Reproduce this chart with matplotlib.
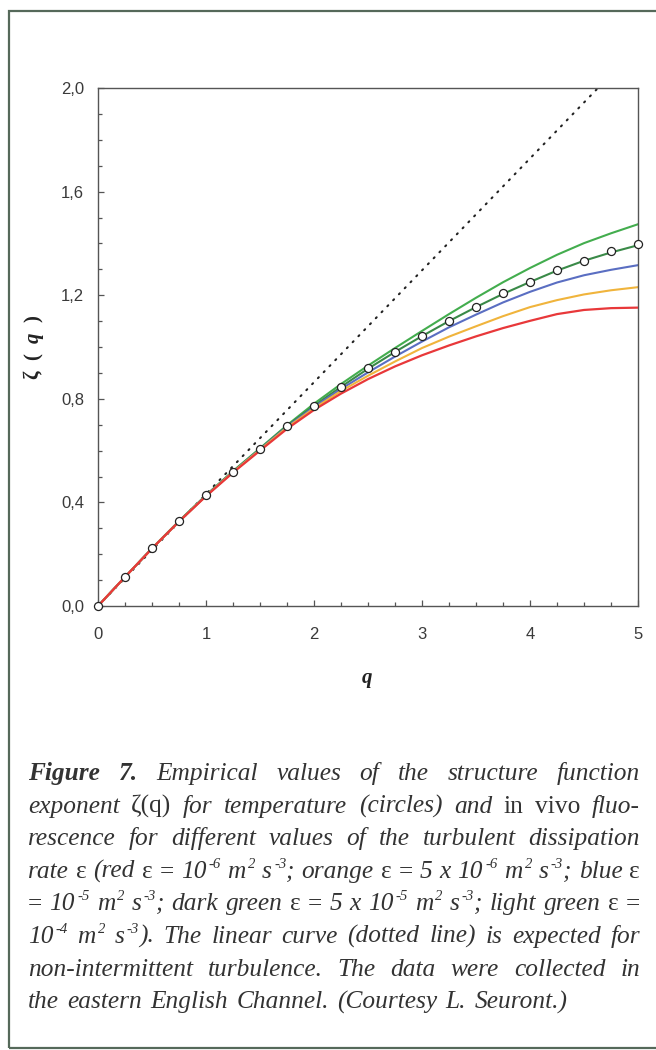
import matplotlib
matplotlib.use('Agg')
import matplotlib.pyplot as plt
from matplotlib.patches import Rectangle
from matplotlib.ticker import MultipleLocator, FixedLocator, FixedFormatter

# ---------------- data ----------------
q_points = [0.0, 0.25, 0.5, 0.75, 1.0, 1.25, 1.5, 1.75, 2.0, 2.25, 2.5,
            2.75, 3.0, 3.25, 3.5, 3.75, 4.0, 4.25, 4.5, 4.75, 5.0]
zeta_temperature = [0.0, 0.113, 0.223, 0.327, 0.427, 0.519, 0.607, 0.694, 0.772, 0.846, 0.917,
                    0.982, 1.042, 1.100, 1.155, 1.207, 1.251, 1.296, 1.333, 1.369, 1.397]
zeta_red = [0.0, 0.112, 0.222, 0.326, 0.424, 0.515, 0.600, 0.684, 0.757, 0.820, 0.876,
            0.925, 0.968, 1.006, 1.041, 1.073, 1.101, 1.127, 1.143, 1.150, 1.152]
zeta_orange = [0.0, 0.112, 0.222, 0.326, 0.425, 0.517, 0.603, 0.689, 0.763, 0.830, 0.889,
               0.944, 0.996, 1.040, 1.080, 1.119, 1.154, 1.181, 1.203, 1.219, 1.231]
zeta_blue = [0.0, 0.112, 0.222, 0.326, 0.426, 0.518, 0.605, 0.692, 0.768, 0.838, 0.902,
             0.963, 1.021, 1.076, 1.125, 1.172, 1.213, 1.249, 1.277, 1.298, 1.316]
zeta_darkgreen = [0.0, 0.112, 0.222, 0.327, 0.427, 0.519, 0.606, 0.695, 0.773, 0.846, 0.916,
                  0.981, 1.042, 1.100, 1.154, 1.205, 1.251, 1.295, 1.333, 1.365, 1.393]
zeta_lightgreen = [0.0, 0.112, 0.223, 0.328, 0.428, 0.521, 0.609, 0.698, 0.781, 0.857, 0.928,
                   0.996, 1.062, 1.127, 1.190, 1.250, 1.305, 1.356, 1.401, 1.439, 1.474]
q_linear = [0.0, 5.0]
zeta_linear = [0.0, 2.16]

x_ticks = [0, 1, 2, 3, 4, 5]
x_tick_labels = ['0', '1', '2', '3', '4', '5']
y_ticks = [0.0, 0.4, 0.8, 1.2, 1.6, 2.0]
y_tick_labels = ['0,0', '0,4', '0,8', '1,2', '1,6', '2,0']

# ---------------- figure ----------------
W, H = 656, 1050
fig = plt.figure(figsize=(W / 100, H / 100), dpi=100)
fig.patch.set_facecolor('white')

plt.rcParams['mathtext.fontset'] = 'custom'
plt.rcParams['mathtext.rm'] = 'Liberation Serif'
plt.rcParams['mathtext.bf'] = 'Liberation Serif:bold'
plt.rcParams['mathtext.bfit'] = 'Liberation Serif:italic:bold'
plt.rcParams['mathtext.it'] = 'Liberation Serif:italic'

ax_left, ax_top, ax_right, ax_bottom = 98, 88, 638, 606
ax = fig.add_axes([ax_left / W, 1 - ax_bottom / H, (ax_right - ax_left) / W, (ax_bottom - ax_top) / H])

c_lg = '#43ad4e'
c_dg = '#3a8a48'
c_bl = '#5a6ec2'
c_or = '#f0b43c'
c_rd = '#e8383a'

ax.plot(q_linear, zeta_linear, color='#222222', lw=1.5, linestyle=(0, (0.6, 3.4)),
        dash_capstyle='round', zorder=1)
ax.plot(q_points, zeta_lightgreen, color=c_lg, lw=1.5, zorder=2)
ax.plot(q_points, zeta_darkgreen, color=c_dg, lw=1.5, zorder=2)
ax.plot(q_points, zeta_blue, color=c_bl, lw=1.5, zorder=2)
ax.plot(q_points, zeta_orange, color=c_or, lw=1.5, zorder=2)
ax.plot(q_points, zeta_red, color=c_rd, lw=1.6, zorder=3)
ax.plot(q_points, zeta_temperature, linestyle='none', marker='o', ms=5.8,
        mfc='white', mec='#222222', mew=0.9, zorder=5, clip_on=False)

ax.set_xlim(0, 5)
ax.set_ylim(0, 2.0)
for s in ax.spines.values():
    s.set_color('#555555')
    s.set_linewidth(1.0)

ax.xaxis.set_major_locator(FixedLocator(x_ticks))
ax.xaxis.set_major_formatter(FixedFormatter(x_tick_labels))
ax.xaxis.set_minor_locator(MultipleLocator(0.25))
ax.yaxis.set_major_locator(FixedLocator(y_ticks))
ax.yaxis.set_major_formatter(FixedFormatter(y_tick_labels))
ax.yaxis.set_minor_locator(MultipleLocator(0.1))

ax.tick_params(axis='both', which='both', direction='in', color='#555555', width=0.9,
               top=False, right=False)
ax.tick_params(axis='both', which='major', length=4.5)
ax.tick_params(axis='both', which='minor', length=3)
ax.tick_params(axis='x', which='major', pad=15, labelsize=12, labelcolor='#3a3a3a')
ax.tick_params(axis='y', which='major', pad=10, labelsize=12, labelcolor='#3a3a3a')
for lab in ax.get_xticklabels() + ax.get_yticklabels():
    lab.set_family(['Liberation Sans', 'DejaVu Sans'])

# axis labels in figure pixel coordinates
fig.text(367 / W, 1 - 680 / H, r'$\mathbfit{q}$', fontsize=15, ha='center', va='center',
         color='#222222')
fig.text(33 / W, 1 - 347 / H, r'$\mathbf{\zeta}$  (  $\mathbfit{q}$  )', fontsize=15,
         family='Liberation Serif', weight='bold', rotation=90, ha='center', va='center',
         color='#222222')

# outer frame
fig.add_artist(Rectangle((9 / W, 1 - 1048 / H), 660 / W, (1048 - 11) / H,
                         transform=fig.transFigure, fill=False, edgecolor='#55695a',
                         linewidth=1.6, zorder=0))

# ---------------- caption (justified) ----------------
FS = 18.3
PX = 100 / 72.0
renderer = fig.canvas.get_renderer()
cap_color = '#333333'
SERIF = ['Liberation Serif', 'DejaVu Serif']


def run_props(style):
    size = FS
    st = 'italic'
    wt = 'normal'
    rise = 0.0
    lead = 0.0
    if style in ('r', 'sr'):
        st = 'normal'
    if style == 'bi':
        wt = 'bold'
    if style in ('si', 'sr'):
        size = FS * 0.58
        rise = FS * 0.4 * PX
        lead = 2.0
    return dict(size=size, style=st, weight=wt), rise, lead


def measure(text, style):
    props, _, lead = run_props(style)
    t = fig.text(0, 0, text, family=SERIF, **props)
    w = t.get_window_extent(renderer).width
    t.remove()
    return w + lead


def I(s):
    return [(s, 'i')]


def R(s):
    return [(s, 'r')]


def P(base, exp, tail=''):
    runs = [(base, 'i'), (exp, 'si')]
    if tail:
        runs.append((tail, 'i'))
    return runs


lines = [
    [[('Figure', 'bi')], [('7.', 'bi')]] + [I(w) for w in 'Empirical values of the structure function'.split()],
    [I('exponent'), [('ζ(q)', 'r')]] + [I(w) for w in 'for temperature (circles) and'.split()]
    + [R('in'), R('vivo'), I('fluo-')],
    [I(w) for w in 'rescence for different values of the turbulent dissipation'.split()],
    [I('rate'), R('ε'), I('(red'), R('ε'), R('='), P('10', '-6'), P('m', '2'), P('s', '-3', ';'),
     I('orange'), R('ε'), R('='), I('5'), I('x'), P('10', '-6'), P('m', '2'), P('s', '-3', ';'),
     I('blue'), R('ε')],
    [R('='), P('10', '-5'), P('m', '2'), P('s', '-3', ';'), I('dark'), I('green'), R('ε'), R('='),
     I('5'), I('x'), P('10', '-5'), P('m', '2'), P('s', '-3', ';'), I('light'), I('green'), R('ε'), R('=')],
    [P('10', '-4'), P('m', '2'), P('s', '-3', ').')] + [I(w) for w in
                                                     'The linear curve (dotted line) is expected for'.split()],
    [I(w) for w in 'non-intermittent turbulence. The data were collected in'.split()],
    [I(w) for w in 'the eastern English Channel. (Courtesy L. Seuront.)'.split()],
]

x0, x1 = 28, 640
y_base0, dy = 780, 32.6
space_w = measure('a a', 'i') - measure('aa', 'i')

for li, words in enumerate(lines):
    widths = []
    for word in words:
        widths.append([measure(t, s) for t, s in word])
    total = sum(sum(w) for w in widths)
    last = (li == len(lines) - 1)
    if last or len(words) < 2:
        gap = space_w * 1.3
    else:
        gap = (x1 - x0 - total) / (len(words) - 1)
    x = x0
    yb = y_base0 + li * dy
    for word, wl in zip(words, widths):
        for (t, s), w in zip(word, wl):
            props, rise, lead = run_props(s)
            fig.text((x + lead) / W, 1 - (yb - rise) / H, t, family=SERIF, color=cap_color,
                     va='baseline', ha='left', **props)
            x += w
        x += gap

fig.savefig('out.png', dpi=100, facecolor='white')
